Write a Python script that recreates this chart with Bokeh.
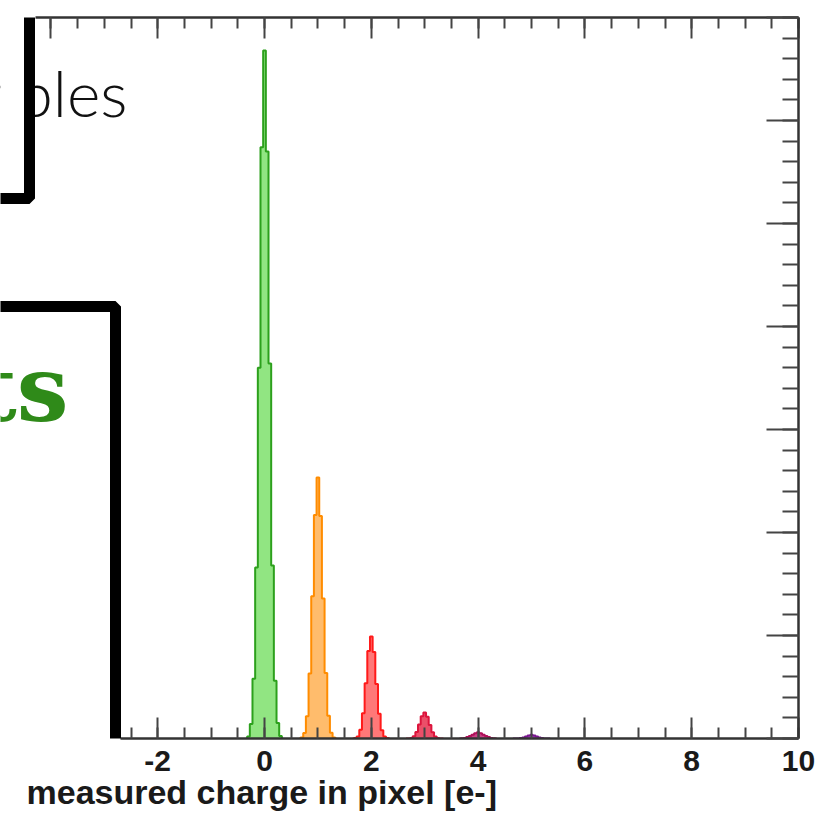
from bokeh.plotting import figure
from bokeh.models import (Range1d, LinearAxis, BoxAnnotation, Label, SingleIntervalTicker,
                          Title, CustomLabelingPolicy)
from bokeh.embed import file_html
from bokeh.resources import INLINE

# ---------------- data ----------------
x_label = "measured charge in pixel [e-]"
x_tick_text = {-4: "-4", -2: "-2"}
peak_charges = [0, 1, 2, 3, 4, 5]
bin_offsets = [-0.35, -0.30, -0.25, -0.20, -0.15, -0.10, -0.05, 0.0,
               0.05, 0.10, 0.15, 0.20, 0.25, 0.30, 0.35]
counts_0e = [0, 10, 70, 290, 830, 1800, 2870, 3340, 2850, 1820, 840, 280, 75, 12, 0]
counts_1e = [0, 5, 27, 108, 315, 690, 1085, 1267, 1080, 680, 318, 110, 28, 5, 0]
counts_2e = [0, 2, 10, 42, 123, 268, 425, 495, 420, 265, 120, 40, 10, 2, 0]
counts_3e = [0, 0, 3, 11, 31, 68, 108, 126, 106, 66, 30, 10, 3, 0, 0]
counts_4e = [0, 1, 3, 7, 12, 18, 26, 30, 26, 18, 12, 7, 3, 1, 0]
counts_5e = [0, 0, 0, 2, 5, 10, 15, 18, 15, 10, 5, 2, 0, 0, 0]
peak_counts = [counts_0e, counts_1e, counts_2e, counts_3e, counts_4e, counts_5e]
line_colors = ["#2ca01c", "#ff8c00", "#ff1a1a", "#dc143c", "#b0105a", "#7a1590"]
fill_colors = ["#7ee06c", "#ffb052", "#ff6060", "#e8304f", "#c02070", "#8a2aa0"]

# ---------------- figure ----------------
p = figure(width=839, height=814, x_range=Range1d(-4.944, 10), y_range=Range1d(0, 3500),
           output_backend="svg", toolbar_location=None, y_axis_location="right",
           min_border_left=0, min_border_right=41, min_border_top=17, min_border_bottom=76)
p.outline_line_color = None
p.grid.visible = False
p.background_fill_color = "white"

for q, counts, lc, fc in zip(peak_charges, peak_counts, line_colors, fill_colors):
    xs = [q + o for o in bin_offsets]
    p.varea_step(x=xs, y1=[0] * len(xs), y2=counts, step_mode="center",
                 fill_color=fc, fill_alpha=0.85)
    p.step(x=xs, y=counts, mode="center", line_color=lc, line_width=2)

no_labels = CustomLabelingPolicy(code="return new Set()")

def style_x(ax, labels, start):
    ax.ticker = SingleIntervalTicker(interval=2, num_minor_ticks=4)
    ax.bounds = (start, 10)
    ax.axis_line_color = "#333333"
    ax.axis_line_width = 2.5
    ax.major_tick_in = 21
    ax.major_tick_out = 0
    ax.minor_tick_in = 11
    ax.minor_tick_out = 0
    ax.major_tick_line_color = "#444444"
    ax.minor_tick_line_color = "#444444"
    ax.major_tick_line_width = 2
    ax.minor_tick_line_width = 2
    if labels:
        ax.major_label_overrides = x_tick_text
        ax.major_label_text_font = "Liberation Sans"
        ax.major_label_text_font_style = "bold"
        ax.major_label_text_font_size = "30px"
        ax.major_label_text_color = "#1a1a1a"
        ax.major_label_standoff = 12
    else:
        ax.major_label_text_font_size = "0px"
        ax.major_label_standoff = 0
        ax.major_label_policy = no_labels

style_x(p.xaxis[0], True, -2.7)
top_axis = LinearAxis()
style_x(top_axis, False, -4.29)
p.add_layout(top_axis, "above")

ya = p.yaxis[0]
ya.ticker = SingleIntervalTicker(interval=500, num_minor_ticks=5)
ya.axis_line_color = "#333333"
ya.axis_line_width = 2.5
ya.major_tick_in = 32
ya.major_tick_out = 0
ya.minor_tick_in = 16
ya.minor_tick_out = 0
ya.major_tick_line_color = "#444444"
ya.minor_tick_line_color = "#444444"
ya.major_tick_line_width = 2
ya.minor_tick_line_width = 2
ya.major_label_text_font_size = "0px"
ya.major_label_standoff = 0
ya.major_label_policy = no_labels

# axis title
p.add_layout(Title(text=x_label, align="left", offset=26, standoff=-6,
                   text_font="Liberation Sans", text_font_style="bold",
                   text_font_size="34px", text_color="#1a1a1a"), "below")

# overlaid slide boxes
p.add_layout(Label(x=127, y=646, x_units="screen", y_units="screen", text="samples",
                   text_font="Lato Light", text_font_size="64px",
                   text_color="#111111", text_baseline="alphabetic", text_align="right"))
p.add_layout(BoxAnnotation(left=-100, right=29, bottom=540, top=900,
                           left_units="screen", right_units="screen",
                           bottom_units="screen", top_units="screen",
                           fill_color="white", fill_alpha=1.0,
                           line_color="black", line_width=11, line_alpha=1.0))
p.add_layout(BoxAnnotation(left=-100, right=115, bottom=-55, top=432,
                           left_units="screen", right_units="screen",
                           bottom_units="screen", top_units="screen",
                           fill_color="white", fill_alpha=1.0,
                           line_color="black", line_width=11, line_alpha=1.0))
p.add_layout(Label(x=68, y=350, x_units="screen", y_units="screen", text="Results",
                   text_font="DejaVu Serif", text_font_style="bold",
                   text_font_size="92px", text_color="#2f8a19",
                   text_baseline="alphabetic", text_align="right"))

open("out.html", "w").write(file_html(p, INLINE))
